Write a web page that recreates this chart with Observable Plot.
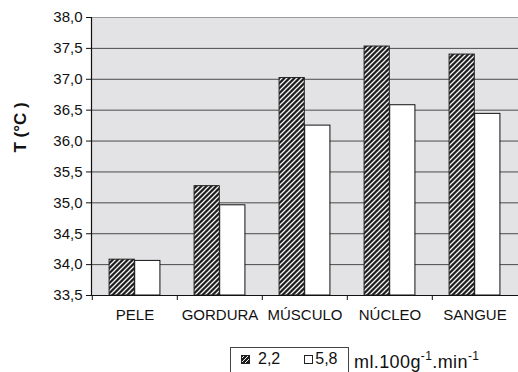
<!DOCTYPE html>
<html>
<head>
<meta charset="utf-8">
<script src="https://cdn.jsdelivr.net/npm/d3@7"></script>
<script src="https://cdn.jsdelivr.net/npm/@observablehq/plot@0.6"></script>
<style>
  html, body { margin: 0; padding: 0; background: #fff; }
  body { font-family: "Liberation Sans", Arial, sans-serif; width: 518px; height: 372px; overflow: hidden; position: relative; }
  #legend { position: absolute; left: 230px; top: 347px; display: flex; align-items: flex-start; font-size: 16px; color: #111; }
  #legend .box { border: 1px solid #444; border-bottom: none; height: 30px; width: 119px; display: flex; align-items: flex-start; box-sizing: border-box; padding-left: 10px; padding-top: 2px; }
  #legend .item { display: flex; align-items: center; }
  #legend .unit { font-size: 18px; letter-spacing: 0.4px; margin-left: 5px; margin-top: 5px; }
  #legend sup { font-size: 12px; vertical-align: 8px; line-height: 0; }
</style>
</head>
<body>
<div id="chart"></div>
<div id="legend"></div>
<script>
const categories = ["PELE", "GORDURA", "MÚSCULO", "NÚCLEO", "SANGUE"];
const flow22 = [34.08, 35.27, 37.02, 37.53, 37.40];
const flow58 = [34.06, 34.96, 36.25, 36.58, 36.44];
const seriesLabels = ["2,2", "5,8"];
const yTicks = [33.5, 34.0, 34.5, 35.0, 35.5, 36.0, 36.5, 37.0, 37.5, 38.0];
const yLabel = "T (°C\u00a0)";
const unitLabel = "ml.100g<sup>-1</sup>.min<sup>-1</sup>";

const data22 = categories.map((c, i) => ({cat: c, value: flow22[i]}));
const data58 = categories.map((c, i) => ({cat: c, value: flow58[i]}));

const width = 518, height = 340;
const marginLeft = 91, marginRight = 0, marginTop = 17, marginBottom = 45;
const step = (width - marginLeft - marginRight) / categories.length;
const fmt = d => d3.format(".1f")(d).replace(".", ",");
const font = "Liberation Sans, Arial, sans-serif";

const chart = Plot.plot({
  width, height, marginLeft, marginRight, marginTop, marginBottom,
  style: {fontFamily: font, fontSize: "15px", color: "#111", background: "#fff"},
  x: {domain: categories, padding: 0, axis: null},
  y: {domain: [yTicks[0], yTicks[yTicks.length - 1]], axis: null},
  marks: [
    Plot.frame({fill: "#e3e3e5", stroke: "none"}),
    Plot.ruleY(yTicks.slice(1, -1), {stroke: "#4a4a4a", strokeWidth: 1}),
    Plot.ruleY([yTicks[yTicks.length - 1]], {stroke: "#9a9a9a", strokeWidth: 1}),
    Plot.barY(data22, {x: "cat", y1: yTicks[0], y2: "value", fill: "url(#hatch)", stroke: "#222", strokeWidth: 1,
      insetLeft: step * 0.2, insetRight: step * 0.5}),
    Plot.barY(data58, {x: "cat", y1: yTicks[0], y2: "value", fill: "#fff", stroke: "#111", strokeWidth: 1,
      insetLeft: step * 0.5, insetRight: step * 0.2}),
    Plot.ruleY([yTicks[0]], {stroke: "#111", strokeWidth: 1.2}),
    Plot.frame({anchor: "left", stroke: "#111", strokeWidth: 1.2}),
    Plot.axisY({ticks: yTicks, tickFormat: fmt, tickSize: 5, tickPadding: 4, label: null, stroke: "#111", fontSize: 15}),
    Plot.axisX({ticks: categories, tickSize: 5, text: null, label: null, dx: -step / 2, stroke: "#111"}),
    Plot.axisX({ticks: categories, tickSize: 0, tickPadding: 14, label: null, fontSize: 15}),
    Plot.text([yLabel], {frameAnchor: "left", rotate: -90, dx: -71, dy: -4, fontWeight: "bold", fontSize: 17, fill: "#111"})
  ]
});

const ns = "http://www.w3.org/2000/svg";
const defs = document.createElementNS(ns, "defs");
defs.innerHTML = `<pattern id="hatch" width="5" height="5" patternUnits="userSpaceOnUse">
  <rect width="5" height="5" fill="#1e1e1e"/>
  <path d="M-1.25,1.25 l2.5,-2.5 M0,5 l5,-5 M3.75,6.25 l2.5,-2.5" stroke="#f4f4f4" stroke-width="1.3"/>
</pattern>`;
chart.insertBefore(defs, chart.firstChild);
document.getElementById("chart").appendChild(chart);

const legend = document.getElementById("legend");
legend.innerHTML = `<div class="box">
  <span class="item"><svg width="9" height="9" style="margin-right:8px"><defs><pattern id="hatchL" width="4" height="4" patternUnits="userSpaceOnUse"><rect width="4" height="4" fill="#1e1e1e"/><path d="M-1,1 l2,-2 M0,4 l4,-4 M3,5 l2,-2" stroke="#f4f4f4" stroke-width="1"/></pattern></defs><rect x="0.5" y="0.5" width="8" height="8" fill="url(#hatchL)" stroke="#222"/></svg>${seriesLabels[0]}</span>
  <span class="item" style="margin-left:24px"><svg width="9" height="9" style="margin-right:2px"><rect x="0.5" y="0.5" width="8" height="8" fill="#fff" stroke="#222"/></svg>${seriesLabels[1]}</span>
</div><span class="unit">${unitLabel}</span>`;
</script>
</body>
</html>
